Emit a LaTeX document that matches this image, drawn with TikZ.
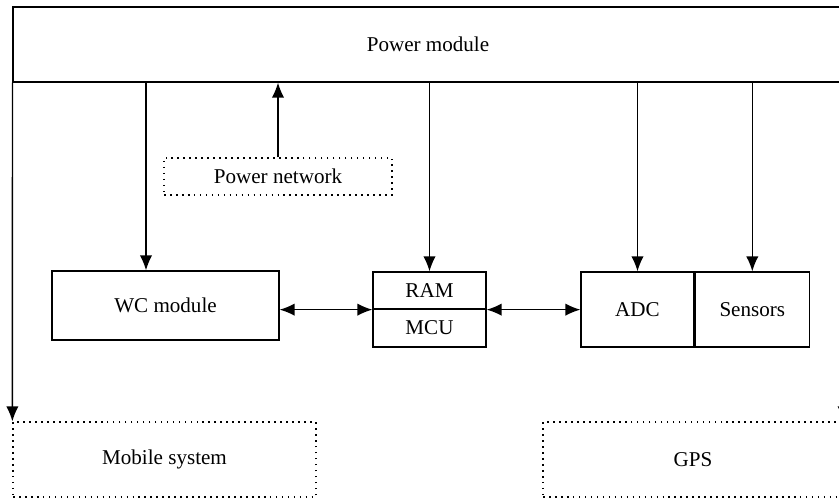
\documentclass[tikz,border=0pt]{standalone}
\usepackage{fontspec}
\setmainfont{Liberation Serif}
\usepackage{tikz}
\usetikzlibrary{positioning}
\usetikzlibrary{arrows.meta}
\tikzset{>={Latex[length=8.5pt, width=7pt]}}

\begin{document}
\begin{tikzpicture}[x=0.02cm, y=-0.02cm, line width=.75pt, font=\fontsize{12}{14}\selectfont,
    blk/.style={draw, inner sep=0pt},
    dotblk/.style={draw, inner sep=0pt, dash pattern=on .9pt off 2.5pt}]
    \useasboundingbox (0, 0) rectangle (839, 499);
    \clip (0, 0) rectangle (839, 499);
    \node[blk, minimum width=16.6cm, minimum height=1.5cm](pm) at (428, 44.5) {Power module};
    \node[dotblk, minimum width=4.56cm, minimum height=.74cm](pn) at (278, 176.5) {Power network};
    \node[blk, minimum width=4.54cm, minimum height=1.38cm](wc) at (165.5, 305.5) {WC module};
    \node[blk, minimum width=2.26cm, minimum height=.74cm](ram) at (429.5, 290.5) {RAM};
    \node[blk, minimum width=2.26cm, minimum height=.76cm](mcu) at (429.5, 328) {MCU};
    \node[blk, minimum width=2.26cm, minimum height=1.5cm](adc) at (637.5, 309.5) {ADC};
    \node[blk, minimum width=2.28cm, minimum height=1.5cm, right=0pt of adc](sens) {Sensors};
    \node[dotblk, minimum width=6.06cm, minimum height=1.5cm](mob) at (164.5, 459.5) {Mobile system};
    \node[dotblk, minimum width=6cm, minimum height=1.5cm](gps) at (693, 459.5) {GPS};
    % power lines
    \draw[->](pm.south -| 146, 0)--(wc.north -| 146, 0);
    \draw[->](pn)--(pn |- pm.south);
    \draw[->](pm.south -| ram)--(ram);
    \draw[->](pm.south -| adc)--(adc);
    \draw[->](pm.south -| sens)--(sens);
    \draw[->](pm.south west)--(mob.north west);
    \draw[->](pm.south east)--(gps.north east);
    % data lines
    \draw[<->](wc.east |- ram.south west)--(ram.south west);
    \draw[<->](ram.south east)--(adc.west |- ram.south east);
\end{tikzpicture}
\end{document}
